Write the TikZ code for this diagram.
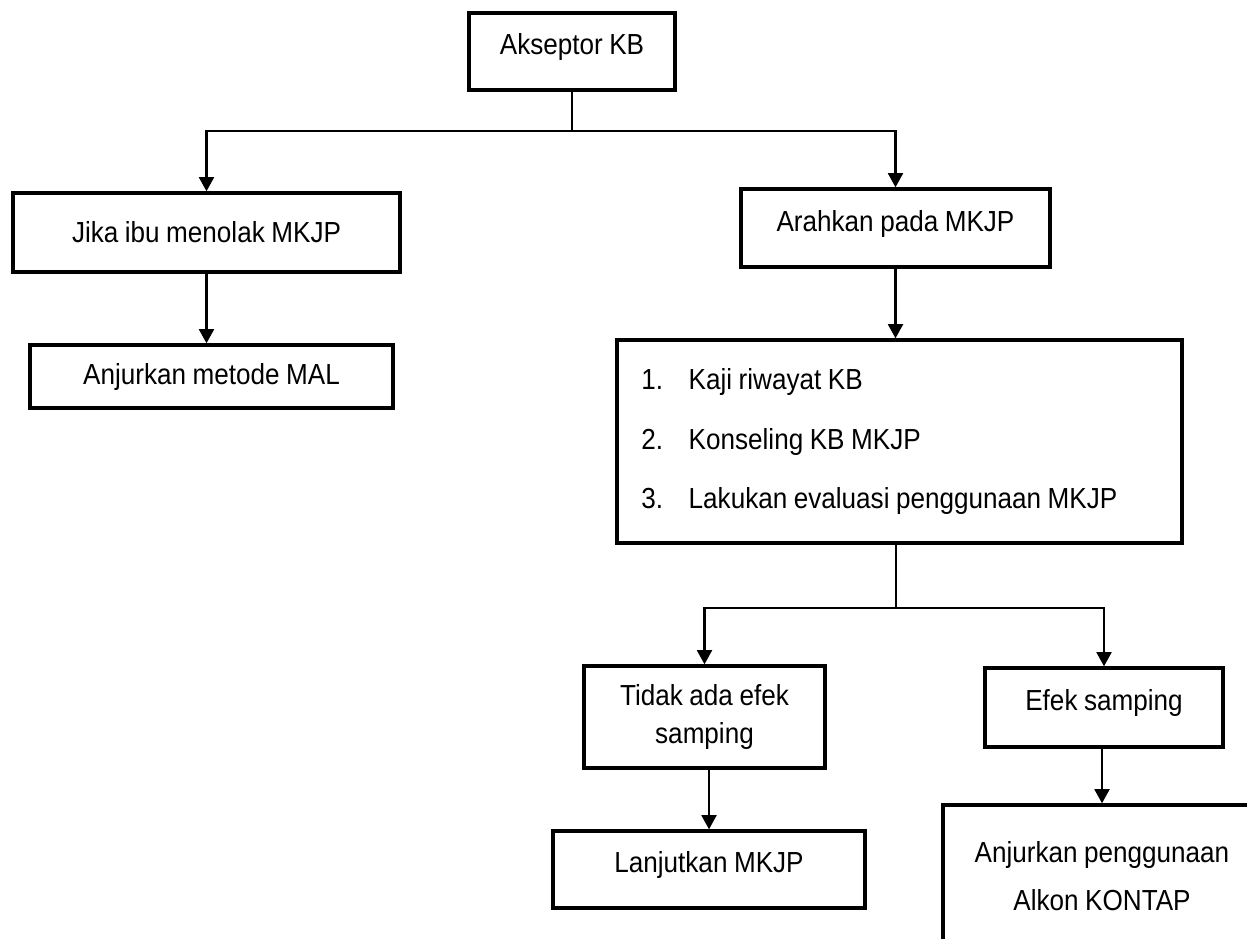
\documentclass[tikz,border=0pt]{standalone}
\usepackage{fontspec}
\setmainfont{Liberation Sans}[FakeStretch=0.9, WordSpace=0.9]
\usepackage{tikz}
\usetikzlibrary{arrows.meta,positioning}

\begin{document}
\begin{tikzpicture}[
  x=0.02cm, y=-0.02cm,
  font=\fontsize{16.5}{19}\selectfont,
  box/.style={draw=black, line width=2pt, fill=white, align=center, inner sep=0pt},
  tup/.style={text depth=8pt},
  ln/.style={line width=1.2pt},
  arr/.style={-{Triangle[length=8pt,width=8.5pt]}, line width=1.2pt}
]
\path[use as bounding box, clip] (0,0) rectangle (1247,938);

% boxes
\node[box, tup, minimum width=4.12cm, minimum height=1.54cm] (akseptor) at (572,51.5) {Akseptor KB};
\node[box, minimum width=7.74cm, minimum height=1.58cm] (jika) at (206.5,232.5) {Jika ibu menolak MKJP};
\node[box, minimum width=7.26cm, minimum height=1.26cm] (mal) at (211.5,376.5) {Anjurkan metode MAL};
\node[box, tup, minimum width=6.18cm, minimum height=1.56cm] (arahkan) at (895.5,228) {Arahkan pada MKJP};
\node[box, align=left, minimum width=11.3cm, minimum height=4.06cm] (daftar) at (899.5,441.5)
  {\makebox[27pt][l]{1.}Kaji riwayat KB\\[15pt]
   \makebox[27pt][l]{2.}Konseling KB MKJP\\[15pt]
   \makebox[27pt][l]{3.}Lakukan evaluasi penggunaan MKJP\rule{23pt}{0pt}};
\node[box, minimum width=4.82cm, minimum height=2.04cm] (tidak) at (704.5,717) {Tidak ada efek\\[2.5pt]samping};
\node[box, tup, minimum width=6.24cm, minimum height=1.54cm] (lanjut) at (709,869.5) {Lanjutkan MKJP};
\node[box, tup, minimum width=4.76cm, minimum height=1.58cm] (efek) at (1104,707.5) {Efek samping};
\node[box, minimum width=6.36cm, minimum height=2.84cm] (alkon) at (1102,876) {Anjurkan penggunaan\\[8pt]Alkon KONTAP};

% connectors
\coordinate (cab1) at (572,131);
\coordinate (cab2) at (896,608);
\draw[ln] (akseptor.south) -- (cab1);
\draw[arr] (cab1) -| (jika.north);
\draw[arr] (cab1) -| (arahkan.north);
\draw[arr] (jika.south) -- (jika.south |- mal.north);
\draw[arr] (arahkan.south) -- (arahkan.south |- daftar.north);
\draw[ln] (daftar.south -| cab2) -- (cab2);
\draw[arr] (cab2) -| (tidak.north);
\draw[arr] (cab2) -| (efek.north);
\draw[arr] (tidak.south -| lanjut.north) -- (lanjut.north);
\draw[arr] (efek.south -| alkon.north) -- (alkon.north);
\end{tikzpicture}
\end{document}
